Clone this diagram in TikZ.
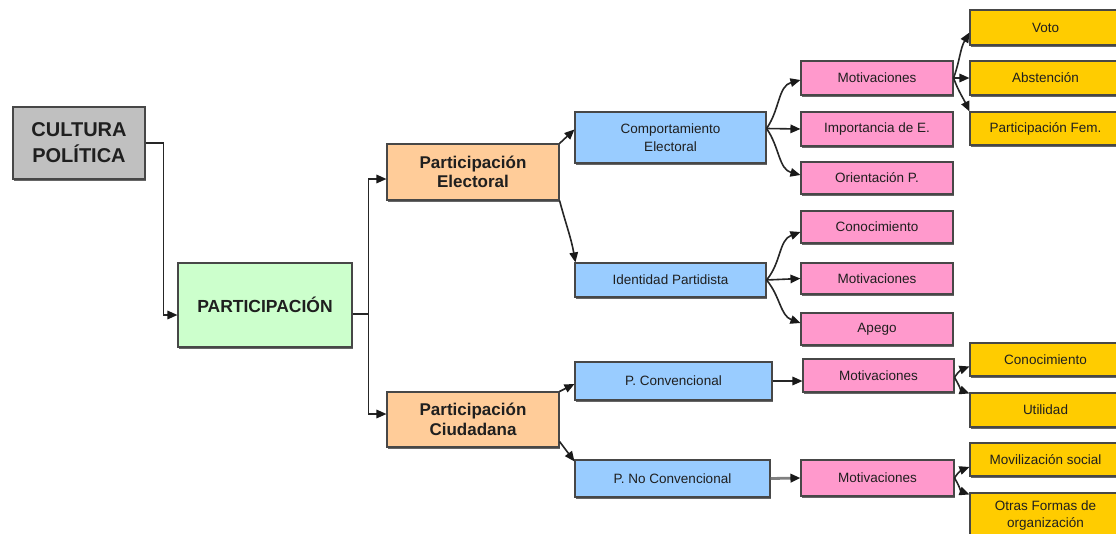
\documentclass[tikz,border=0pt]{standalone}
\usepackage{fontspec}
\setmainfont{Liberation Sans}
\usetikzlibrary{arrows.meta,shadows}
\definecolor{cgray}{HTML}{C0C0C0}
\definecolor{cgreen}{HTML}{CCFFCC}
\definecolor{corange}{HTML}{FFCC99}
\definecolor{cblue}{HTML}{99CCFF}
\definecolor{cpink}{HTML}{FF99CC}
\definecolor{cyellow}{HTML}{FFCC00}
\begin{document}
\begin{tikzpicture}[x=1pt,y=-1pt,
  box/.style={draw=black!72, line width=1.1pt, inner sep=0pt, align=center, text=black!88,
    font=\fontsize{13.5}{18}\selectfont,
    drop shadow={shadow xshift=1pt, shadow yshift=-1.6pt, fill=black!60, opacity=1}},
  graybox/.style={box, fill=cgray, font=\fontsize{20}{26}\selectfont\bfseries},
  greenbox/.style={box, fill=cgreen, font=\fontsize{17.5}{19}\selectfont\bfseries},
  orangebox/.style={box, fill=corange, font=\fontsize{17}{19.5}\selectfont\bfseries},
  bluebox/.style={box, fill=cblue},
  pinkbox/.style={box, fill=cpink},
  yellowbox/.style={box, fill=cyellow},
  arr/.style={line width=1.6pt, draw=black!85, -{Triangle[length=10pt,width=8.5pt,color=black!90]}},
]
\fill[white] (0,0) rectangle (1116,533);
\useasboundingbox (0,0) rectangle (1116,533);

% level 0-2
\node[graybox, minimum width=132, minimum height=72] (cult) at (79,143) {CULTURA\\POLÍTICA};
\node[greenbox, minimum width=174, minimum height=84] (part) at (265,305) {PARTICIPACIÓN};
\node[orangebox, minimum width=172, minimum height=56] (elec) at (473,172) {Participación\\Electoral};
\node[orangebox, minimum width=172, minimum height=55] (ciud) at (473,419.5) {Participación\\Ciudadana};

% blue
\node[bluebox, minimum width=191, minimum height=51] (comp) at (670.5,137.5) {Comportamiento\\Electoral};
\node[bluebox, minimum width=191, minimum height=34] (ident) at (670.5,280) {Identidad Partidista};
\node[bluebox, minimum width=197, minimum height=38] (pconv) at (673.5,381) {P. Convencional};
\node[bluebox, minimum width=195, minimum height=37] (pnoconv) at (672.5,478.5) {P. No Convencional};

% pink
\node[pinkbox, minimum width=152, minimum height=34] (mot1) at (877,78) {Motivaciones};
\node[pinkbox, minimum width=152, minimum height=34] (imp) at (877,129) {Importancia de E.};
\node[pinkbox, minimum width=152, minimum height=32] (ori) at (877,178) {Orientación P.};
\node[pinkbox, minimum width=152, minimum height=32] (con1) at (877,227) {Conocimiento};
\node[pinkbox, minimum width=152, minimum height=31] (mot2) at (877,278.5) {Motivaciones};
\node[pinkbox, minimum width=152, minimum height=32] (apego) at (877,329) {Apego};
\node[pinkbox, minimum width=151, minimum height=33] (mot3) at (878.5,375.5) {Motivaciones};
\node[pinkbox, minimum width=153, minimum height=36] (mot4) at (877.5,478) {Motivaciones};

% yellow
\node[yellowbox, minimum width=151, minimum height=35] (voto) at (1045.5,27.5) {Voto};
\node[yellowbox, minimum width=151, minimum height=34] (abst) at (1045.5,78) {Abstención};
\node[yellowbox, minimum width=151, minimum height=33] (pfem) at (1045.5,128.5) {Participación Fem.};
\node[yellowbox, minimum width=151, minimum height=33] (conoc2) at (1045.5,359.5) {Conocimiento};
\node[yellowbox, minimum width=151, minimum height=34] (util) at (1045.5,410) {Utilidad};
\node[yellowbox, minimum width=151, minimum height=33] (movil) at (1045.5,459.5) {Movilización social};
\node[yellowbox, minimum width=151, minimum height=57, font=\fontsize{13.5}{16.5}\selectfont] (otras) at (1045.5,521.5) {};
\node[font=\fontsize{13.5}{16.5}\selectfont, text=black!88, align=center] (otrast) at (1045.5,515.5) {Otras Formas de\\organización};

% connectors
\draw[arr] (cult.east) -- ++(18,0) |- ([yshift=-10]part.west);
\draw[arr] ([yshift=-9]part.east) -- ++(16,0) coordinate (j) |- ([yshift=-7]elec.west);
\draw[arr] (j) |- ([yshift=5.5]ciud.west);

\draw[arr] (elec.north east) -- ([yshift=8]comp.west);
\draw[arr] (elec.south east) to[out=-75,in=100] ([xshift=1]ident.north west);
\draw[arr] (ciud.north east) -- ([yshift=-3]pconv.west);
\draw[arr] ([yshift=6]ciud.south east) -- ([yshift=-2]pnoconv.north west);

\coordinate (ce) at ([yshift=9]comp.east);
\draw[arr] (ce) to[out=55,in=195] ([yshift=-2]mot1.west);
\draw[arr] (ce) -- (imp.west);
\draw[arr] (ce) to[out=-55,in=165] ([yshift=3]ori.west);

\draw[arr] (mot1.east) to[out=70,in=240] ([yshift=-5]voto.west);
\draw[arr] (mot1.east) -- (abst.west);
\draw[arr] (mot1.east) to[out=-70,in=115] (pfem.north west);

\draw[arr] (ident.east) to[out=50,in=200] ([yshift=-5]con1.west);
\draw[arr] (ident.east) -- (mot2.west);
\draw[arr] (ident.east) to[out=-50,in=160] ([yshift=6]apego.west);

\draw[arr] (pconv.east) -- (pconv.east -| mot3.west);
\draw[arr] ([yshift=-2]mot3.east) to[out=60,in=200] ([yshift=-7]conoc2.west);
\draw[arr] ([yshift=-2]mot3.east) to[out=-60,in=160] ([yshift=-1]util.north west);

\draw[line width=2.8pt, draw=black!50, -{Triangle[length=10pt,width=8.5pt,color=black!90]}] (pnoconv.east) -- (mot4.west);
\draw[arr] (mot4.east) to[out=60,in=200] ([yshift=-7.5]movil.west);
\draw[arr] (mot4.east) to[out=-60,in=160] ([yshift=-2]otras.north west);
\end{tikzpicture}
\end{document}
